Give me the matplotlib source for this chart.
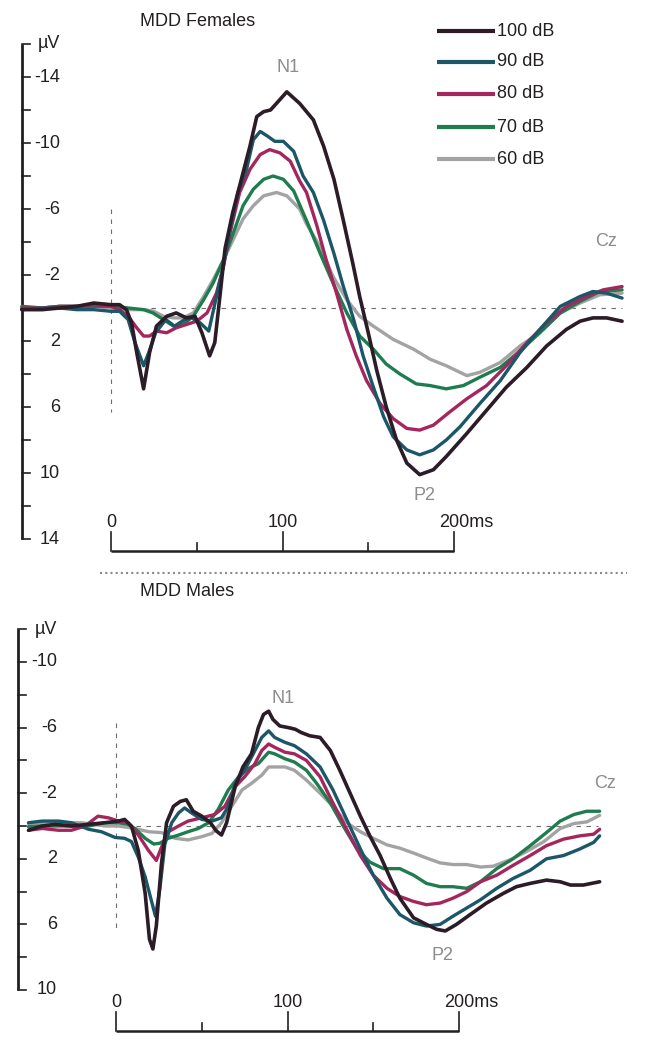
import matplotlib
matplotlib.use("Agg")
import matplotlib.pyplot as plt
from matplotlib.lines import Line2D

W, H = 648, 1048
plt.rcParams["font.family"] = ["Liberation Sans", "DejaVu Sans"]

LEVELS = ["100 dB", "90 dB", "80 dB", "70 dB", "60 dB"]
COLORS = ["#2b1c27", "#1b5768", "#a5265c", "#1f7c4f", "#a3a3a3"]
WIDTHS = [2.6, 2.4, 2.4, 2.4, 2.4]

# MDD Females, Cz: (ms, µV) — negative up
fem_100 = [(-52, 0.1), (-40, 0.1), (-30, 0.0), (-20, -0.1), (-10, -0.3), (0, -0.2), (5, -0.2),
           (9, 0.1), (12, 0.9), (15, 2.7), (19, 4.9), (22.5, 2.7), (26.5, 1.1), (32.5, 0.5),
           (38, 0.3), (44, 0.6), (49, 0.5), (53, 1.5), (57.5, 2.9), (60.5, 2.1), (63.5, -0.7),
           (66.5, -3.6), (71, -5.8), (76, -7.8), (81, -9.8), (85, -11.6), (89, -11.9),
           (93, -12.0), (96.5, -12.4), (102.5, -13.1), (110, -12.4), (118, -11.4),
           (124, -9.8), (130, -7.8), (135.5, -5.3), (141, -2.7), (145, -0.7), (150, 1.5),
           (155, 3.8), (160.5, 6.0), (166.5, 8.0), (172.5, 9.4), (180, 10.1), (188, 9.8),
           (195.5, 9.0), (207.5, 7.6), (219, 6.2), (230.5, 4.8), (242.5, 3.6), (254, 2.3),
           (265.5, 1.3), (273.5, 0.8), (281, 0.6), (289, 0.6), (298, 0.8)]
fem_90 = [(-52, 0.1), (-40, 0.0), (-30, 0.0), (-20, 0.1), (-10, 0.1), (0, 0.2), (5, 0.2),
          (10, 0.7), (14, 2.1), (19, 3.5), (22, 2.7), (26, 1.5), (32, 0.7), (37, 1.1),
          (43, 0.7), (47, 0.6), (52, 0.9), (57, 1.4), (61.5, -0.7), (65.5, -2.5),
          (69.5, -4.8), (74, -7.0), (79, -8.4), (83, -10.2), (87, -10.7), (91.5, -10.4),
          (95.5, -10.1), (100.5, -10.1), (106.5, -9.5), (112, -8.0), (118, -7.0),
          (124, -5.3), (130, -3.3), (135.5, -1.3), (141.5, 0.7), (147, 2.9), (153, 4.8),
          (159, 6.6), (164.5, 7.8), (172.5, 8.6), (180, 8.9), (188, 8.6), (195.5, 8.0),
          (203.5, 7.2), (215, 5.8), (227, 4.4), (238.5, 2.7), (250, 1.3), (262, -0.1),
          (273.5, -0.7), (281, -1.0), (289, -0.9), (298, -0.6)]
fem_80 = [(-52, 0.0), (-40, 0.0), (-30, -0.1), (-20, -0.1), (-10, -0.2), (0, -0.1), (5, 0.1),
          (10, 0.5), (15, 1.2), (19, 1.7), (22.5, 1.7), (26.5, 1.4), (32.5, 1.5), (38, 1.2),
          (44, 1.0), (50, 0.8), (56, 0.3), (61.5, -0.9), (65.5, -2.5), (69.5, -4.6),
          (75, -7.0), (81, -8.4), (87, -9.3), (92.5, -9.6), (98.5, -9.4), (104.5, -8.9),
          (110, -7.7), (114, -7.0), (120, -5.0), (125.5, -2.9), (131.5, -0.9), (137.5, 1.3),
          (143, 2.9), (149, 4.4), (157, 5.8), (164.5, 6.7), (172.5, 7.3), (180, 7.4),
          (188, 7.1), (197.5, 6.3), (207.5, 5.5), (219, 4.7), (230.5, 3.5), (242.5, 2.1),
          (254, 0.9), (265.5, -0.1), (277.5, -0.7), (287, -1.1), (298, -1.3)]
fem_70 = [(-52, -0.1), (-40, 0.0), (-30, -0.1), (-20, -0.1), (-10, -0.1), (0, -0.1), (10, 0.0),
          (19, 0.1), (24.5, 0.3), (30.5, 0.7), (36.5, 1.1), (42, 1.0), (48, 0.5), (54, -0.5),
          (59.5, -1.5), (65.5, -2.9), (71.5, -4.6), (77, -6.2), (83, -7.2), (89, -7.8),
          (94.5, -8.0), (100.5, -7.8), (106.5, -7.1), (114, -5.3), (122, -3.3), (129.5, -1.5),
          (137.5, 0.3), (145, 1.7), (153, 2.5), (160.5, 3.4), (168.5, 4.0), (178, 4.6),
          (186, 4.7), (195.5, 4.9), (205.5, 4.7), (215, 4.2), (227, 3.6), (238.5, 2.6),
          (250, 1.5), (262, 0.3), (273.5, -0.4), (285, -1.0), (298, -1.1)]
fem_60 = [(-52, 0.0), (-40, 0.0), (-30, -0.1), (-20, -0.1), (-10, -0.1), (0, 0.0), (10, 0.1),
          (20, 0.1), (25, 0.2), (30.5, 0.5), (36.5, 0.6), (42, 0.6), (48, 0.3), (54, -0.7),
          (59.5, -1.7), (65.5, -2.9), (71.5, -4.2), (77, -5.4), (83, -6.2), (89, -6.8),
          (96.5, -7.0), (102.5, -6.8), (110, -6.0), (114, -5.1), (122, -3.7), (129.5, -1.9),
          (137.5, -0.5), (145, 0.5), (153, 1.1), (164.5, 1.9), (176.5, 2.5), (186, 3.1),
          (195.5, 3.5), (207.5, 4.1), (215, 3.9), (227, 3.3), (238.5, 2.3), (250, 1.5),
          (262, 0.3), (273.5, -0.3), (285, -0.8), (298, -0.9)]

# MDD Males, Cz
male_100 = [(-51, 0.26), (-43, 0.0), (-35.5, -0.1), (-26, 0.0), (-16, -0.1), (-6.5, -0.2),
            (1.5, -0.3), (5, -0.4), (9, 0.0), (13, 1.5), (17, 4.1), (19.5, 6.9), (21.5, 7.5),
            (23.5, 6.1), (26.5, 2.3), (29.5, -0.2), (33.5, -1.2), (37.5, -1.5), (41, -1.6),
            (45, -0.9), (50, -0.6), (55, -0.2), (58.5, 0.3), (61.5, 0.55), (64.5, -0.2),
            (69.5, -2.4), (74, -3.6), (79, -4.4), (83, -6.0), (86, -6.8), (89, -7.0),
            (91.5, -6.5), (95.5, -6.1), (100.5, -6.0), (104.5, -5.9), (108, -5.7),
            (113, -5.5), (119, -5.4), (125, -4.6), (130.5, -3.4), (136.5, -2.0),
            (142.5, -0.6), (148, 0.6), (154, 1.8), (160, 3.2), (165.5, 4.4), (173.5, 5.6),
            (181, 6.0), (187, 6.3), (192, 6.4), (198.5, 6.0), (206.5, 5.4), (216, 4.7),
            (226, 4.1), (233.5, 3.7), (241.5, 3.5), (251, 3.3), (259, 3.4), (265, 3.6),
            (272.5, 3.6), (282, 3.4)]
male_90 = [(-51, -0.2), (-43, -0.3), (-33.5, -0.3), (-26, -0.2), (-16, 0.2), (-8.5, 0.35),
           (-0.5, 0.7), (5, 0.75), (9, 0.95), (13, 1.9), (17, 3.1), (21, 4.7), (23, 5.5),
           (25.5, 3.9), (28.5, 1.1), (32.5, -0.2), (36.5, -0.8), (40, -1.1), (44, -0.8),
           (50, -0.4), (56, -0.3), (61.5, -0.5), (65.5, -1.2), (69.5, -2.6), (75, -3.4),
           (81, -4.6), (85, -5.4), (89, -5.8), (92.5, -5.4), (98.5, -5.1), (104, -4.9),
           (111, -4.4), (119, -3.6), (126.5, -2.2), (134.5, -0.4), (142.5, 1.4), (150, 3.0),
           (158, 4.4), (165.5, 5.4), (173.5, 5.9), (181, 6.1), (189, 6.0), (196.5, 5.5),
           (204.5, 5.0), (212.5, 4.5), (222, 3.8), (231.5, 3.2), (241.5, 2.7), (251, 2.0),
           (261, 1.8), (270.5, 1.4), (278.5, 1.0), (282, 0.6)]
male_80 = [(-51, 0.26), (-43, 0.15), (-33.5, 0.26), (-26, 0.26), (-18, 0.0), (-10.5, -0.6),
           (-4.5, -0.5), (1.5, -0.3), (7, -0.2), (13, 0.55), (19, 1.5), (23.5, 2.1),
           (26.5, 1.3), (30.5, 0.35), (36.5, 0.0), (42, -0.3), (50, -0.5), (57.5, -0.7),
           (63.5, -1.2), (69.5, -2.4), (75, -3.0), (81, -3.8), (85, -4.6), (89, -5.0),
           (92.5, -4.8), (98.5, -4.5), (104, -4.4), (111, -4.0), (119, -3.0), (126.5, -1.4),
           (134.5, 0.2), (142.5, 1.8), (150, 3.0), (158, 3.8), (165.5, 4.3), (173.5, 4.6),
           (181, 4.8), (189, 4.7), (196.5, 4.4), (204.5, 4.0), (212.5, 3.4), (222, 3.0),
           (231.5, 2.4), (241.5, 1.8), (251, 1.2), (261, 0.8), (270.5, 0.6), (278.5, 0.5),
           (282, 0.2)]
male_70 = [(-51, 0.05), (-43, 0.0), (-33.5, 0.0), (-26, 0.0), (-16, 0.0), (-6.5, -0.2),
           (1.5, -0.2), (7, -0.1), (11, 0.15), (17, 0.75), (22, 1.1), (25.5, 1.05),
           (30.5, 0.75), (36.5, 0.55), (42, 0.35), (48, 0.15), (54, -0.2), (59.5, -1.0),
           (65.5, -2.2), (71.5, -3.0), (77, -3.5), (83, -3.8), (89, -4.5), (92.5, -4.4),
           (98.5, -4.1), (104, -3.9), (111, -3.4), (117, -2.6), (125, -1.4), (132.5, 0.0),
           (140.5, 1.4), (148, 2.2), (156, 2.6), (165.5, 2.6), (173.5, 3.0), (181, 3.5),
           (189, 3.7), (196.5, 3.7), (204.5, 3.8), (212.5, 3.4), (222, 2.6), (231.5, 2.0),
           (241.5, 1.2), (251, 0.4), (259, -0.3), (267, -0.7), (274.5, -0.9), (282, -0.9)]
male_60 = [(-51, -0.1), (-35, -0.2), (-20, -0.2), (-6.5, 0.0), (1.5, 0.0), (11, 0.15),
           (19, 0.35), (26.5, 0.4), (34.5, 0.75), (42, 0.85), (50, 0.65), (56, 0.45),
           (61.5, -0.2), (67.5, -1.2), (73.5, -2.2), (79, -2.6), (85, -3.1), (89, -3.6),
           (92.5, -3.6), (98.5, -3.6), (104, -3.4), (111, -2.8), (119, -2.0), (126.5, -1.2),
           (134.5, -0.2), (142.5, 0.35), (150, 0.75), (158, 1.15), (165.5, 1.35),
           (173.5, 1.65), (181, 1.95), (189, 2.25), (196.5, 2.35), (204.5, 2.35),
           (212.5, 2.5), (220, 2.45), (230, 2.05), (239.5, 1.55), (249.5, 0.95), (259, 0.15),
           (267, -0.15), (274.5, -0.25), (282, -0.65)]

FEM_TICKS = list(range(-16, 15, 2))
FEM_LABELS = {-16: "µV", -14: "-14", -10: "-10", -6: "-6", -2: "-2",
              2: "2", 6: "6", 10: "10", 14: "14"}
MALE_TICKS = list(range(-12, 11, 2))
MALE_LABELS = {-12: "µV", -10: "-10", -6: "-6", -2: "-2", 2: "2", 6: "6", 10: "10"}
TIME_TICKS = [0, 50, 100, 150, 200]
TIME_LABELS = {0: "0", 100: "100"}

DARK = "#231f20"
GREY = "#8c8c8c"
FS = 13
PXX = 1.715  # px per ms


def draw_panel(ax, series, yticks, ylabels, spine_t, label_t, xaxis_v, base_end,
               vdash, n1, p2, cz):
    # traces, weakest first so 100 dB sits on top
    for data, c, lw in reversed(list(zip(series, COLORS, WIDTHS))):
        t, v = zip(*data)
        ax.plot(t, v, color=c, lw=lw, solid_joinstyle="round", solid_capstyle="round", zorder=3)

    # baseline and stimulus onset
    ax.plot([0, base_end], [0, 0], color="#6d6d6d", lw=0.8, ls=(0, (4, 5)), zorder=1)
    ax.plot([0, 0], vdash, color="#6d6d6d", lw=0.8, ls=(0, (4, 5)), zorder=1)

    # µV axis
    tl = 8 / PXX
    ax.plot([spine_t, spine_t], [yticks[0], yticks[-1]], color=DARK, lw=2.0,
            solid_capstyle="butt", zorder=2)
    for yv in yticks:
        ax.plot([spine_t, spine_t + tl], [yv, yv], color=DARK, lw=1.2, zorder=2)
        if yv in ylabels:
            ax.text(label_t, yv, ylabels[yv], ha="right", va="center", fontsize=FS, color=DARK)

    # time axis
    vpx = (yticks[-1] - yticks[0]) / (abs(yticks[0]) * 0 + 1)
    ax.plot([0, 200], [xaxis_v, xaxis_v], color=DARK, lw=1.8, solid_capstyle="butt")
    for tt in TIME_TICKS:
        h = 1.15 if tt % 100 == 0 else 0.5
        ax.plot([tt, tt], [xaxis_v, xaxis_v - h], color=DARK, lw=1.2)
    lab_v = xaxis_v - 1.75
    for tt, s in TIME_LABELS.items():
        ax.text(tt, lab_v, s, ha="center", va="center", fontsize=FS, color=DARK)
    ax.text(200 - 15 / PXX, lab_v, "200ms", ha="left", va="center", fontsize=FS, color=DARK)

    for pos, s in [(n1, "N1"), (p2, "P2"), (cz, "Cz")]:
        ax.text(pos[0], pos[1], s, ha="center", va="center", fontsize=FS, color=GREY)


fig = plt.figure(figsize=(W / 100, H / 100), dpi=100)

# top panel: 0 ms at x=111 px, 0 µV at y=308 px, 16.5 px/µV
ax1 = fig.add_axes([0, 1 - 565 / H, 1, 565 / H])
ax1.set_xlim(-111 / PXX, (W - 111) / PXX)
ax1.set_ylim((565 - 308) / 16.5, -308 / 16.5)
ax1.axis("off")
draw_panel(ax1, [fem_100, fem_90, fem_80, fem_70, fem_60], FEM_TICKS, FEM_LABELS,
           spine_t=(22 - 111) / PXX, label_t=(60 - 111) / PXX,
           xaxis_v=(551 - 308) / 16.5, base_end=298, vdash=[-6, 6.3],
           n1=(103, -14.55), p2=(183, 11.35), cz=(288.5, -4.05))

# legend (manual, as in the original figure)
for i, (lab, c) in enumerate(zip(LEVELS, COLORS)):
    yv = ([31, 62, 94, 127, 159][i] - 308) / 16.5
    ax1.plot([(437 - 111) / PXX, (495 - 111) / PXX], [yv, yv], color=c, lw=3.0,
             solid_capstyle="butt")
    ax1.text((497 - 111) / PXX, yv, lab, ha="left", va="center", fontsize=FS, color=DARK)

# bottom panel: 0 ms at x=116 px, 0 µV at y=826 px, 16.4 px/µV
ax2 = fig.add_axes([0, 0, 1, (H - 565) / H])
ax2.set_xlim(-116 / PXX, (W - 116) / PXX)
ax2.set_ylim((H - 826) / 16.4, (565 - 826) / 16.4)
ax2.axis("off")
draw_panel(ax2, [male_100, male_90, male_80, male_70, male_60], MALE_TICKS, MALE_LABELS,
           spine_t=(18 - 116) / PXX, label_t=(57 - 116) / PXX,
           xaxis_v=(1031 - 826) / 16.4, base_end=281, vdash=[-6.3, 6.5],
           n1=(97.5, -7.8), p2=(190.5, 7.9), cz=(285, -2.6))

fig.text(140 / W, 1 - 22 / H, "MDD Females", ha="left", va="center", fontsize=FS, color=DARK)
fig.text(140 / W, 1 - 592 / H, "MDD Males", ha="left", va="center", fontsize=FS, color=DARK)
fig.add_artist(Line2D([100 / W, 627 / W], [1 - 573 / H, 1 - 573 / H], transform=fig.transFigure,
                      color="#8a8a8a", lw=1.5, ls=(0, (1, 1.5))))

fig.savefig("out.png", dpi=100, facecolor="white")
